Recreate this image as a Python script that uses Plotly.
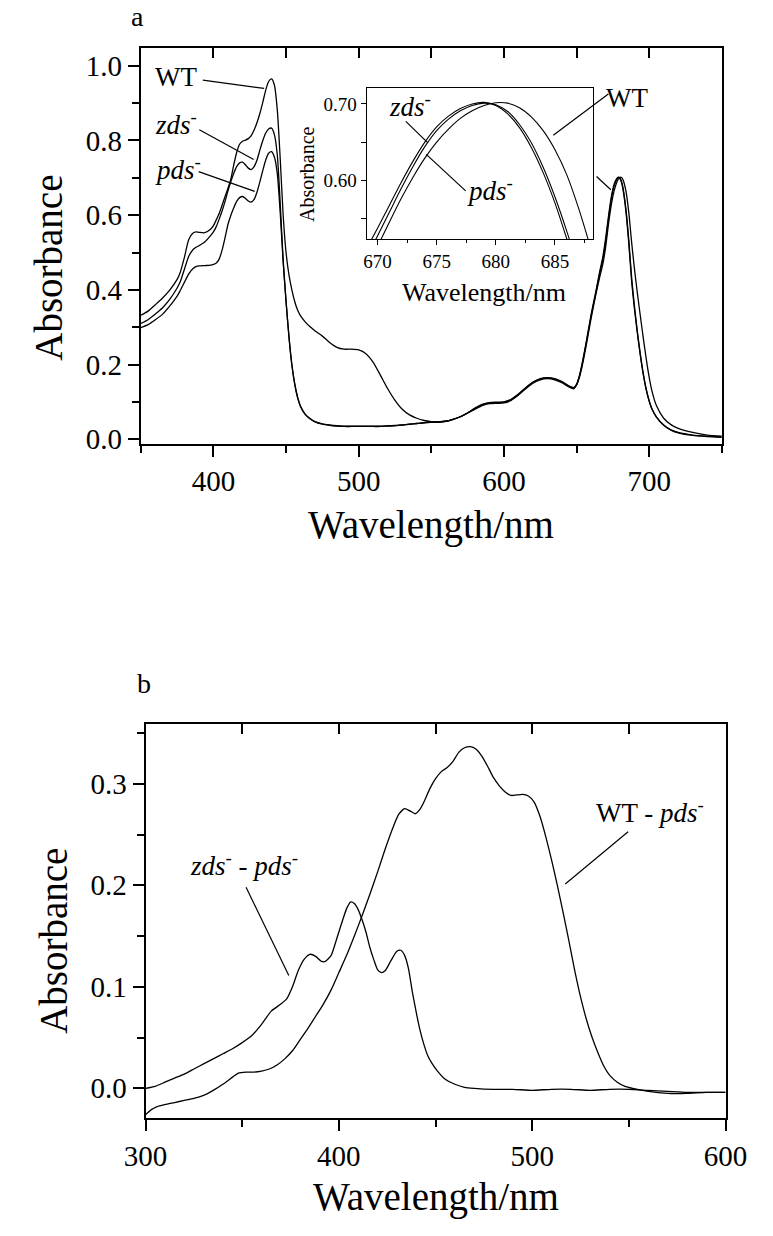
import plotly.graph_objects as go

FIG_W, FIG_H = 773, 1236
FONT = "Liberation Serif"

# ---------------- Panel a: absorption spectra ----------------
wavelength_a = [350, 355, 360, 365, 370, 375,
                377, 380, 383, 386, 388, 390,
                394, 398, 400,
                402, 404, 406, 408, 410, 412, 414, 416, 418, 420,
                422, 424, 426, 428, 430, 432, 434, 436, 438, 440,
                442, 444, 446, 448, 450, 452, 454, 456, 458, 460,
                463, 466, 470,
                475, 480, 485, 490, 495, 500, 505, 510, 515, 520,
                525, 530, 535, 540, 545, 550, 555, 560, 565, 570,
                575, 580, 585, 590, 595, 600, 605, 610, 615, 620,
                625, 630, 635, 640, 645,
                648, 650, 652, 654, 657, 660, 663, 666, 668,
                670, 672, 674, 676, 678,
                679, 680, 681, 682,
                684, 686, 688, 690, 692, 694, 696, 698, 700,
                702, 705, 710, 715, 720, 730, 740, 750]

wt_a = [0.332, 0.343, 0.360, 0.378, 0.400, 0.428,
        0.445, 0.487, 0.535, 0.552, 0.555, 0.554,
        0.553, 0.562, 0.572,
        0.588, 0.605, 0.627, 0.650, 0.672, 0.697, 0.735, 0.768, 0.790, 0.798,
        0.801, 0.805, 0.813, 0.828, 0.848, 0.873, 0.903, 0.935, 0.958, 0.965,
        0.948, 0.880, 0.750, 0.600, 0.500, 0.440, 0.400, 0.368, 0.345, 0.330,
        0.315, 0.303, 0.290,
        0.276, 0.259, 0.246, 0.241, 0.241, 0.239, 0.229, 0.206, 0.171, 0.135,
        0.104, 0.080, 0.065, 0.056, 0.050, 0.047, 0.046, 0.048, 0.053, 0.060,
        0.070, 0.082, 0.092, 0.097, 0.098, 0.099, 0.106, 0.120, 0.137, 0.152,
        0.161, 0.164, 0.161, 0.153, 0.141,
        0.137, 0.145, 0.166, 0.198, 0.258, 0.323, 0.382, 0.435, 0.467,
        0.513, 0.576, 0.629, 0.667, 0.691,
        0.698, 0.7015, 0.701, 0.695,
        0.665, 0.607, 0.525, 0.452, 0.388, 0.328, 0.270, 0.215, 0.166,
        0.128, 0.090, 0.056, 0.039, 0.029, 0.018, 0.011, 0.008]

zds_a = [0.310, 0.320, 0.335, 0.352, 0.375, 0.405,
         0.420, 0.455, 0.490, 0.508, 0.514, 0.518,
         0.528, 0.545, 0.555,
         0.570, 0.590, 0.612, 0.637, 0.665, 0.690, 0.712, 0.730, 0.740, 0.742,
         0.735, 0.726, 0.722, 0.730, 0.748, 0.775, 0.800, 0.820, 0.831, 0.833,
         0.815, 0.760, 0.630, 0.480, 0.370, 0.275, 0.200, 0.148, 0.112, 0.088,
         0.068, 0.057, 0.047,
         0.041, 0.038, 0.036, 0.035, 0.035, 0.035, 0.035, 0.035, 0.035, 0.036,
         0.037, 0.038, 0.040, 0.042, 0.044, 0.045, 0.046, 0.048, 0.053, 0.060,
         0.070, 0.080, 0.090, 0.095, 0.096, 0.097, 0.104, 0.118, 0.135, 0.150,
         0.159, 0.162, 0.159, 0.151, 0.139,
         0.135, 0.146, 0.170, 0.205, 0.267, 0.333, 0.390, 0.450, 0.486,
         0.537, 0.597, 0.650, 0.684, 0.700,
         0.702, 0.698, 0.687, 0.669,
         0.610, 0.523, 0.420, 0.345, 0.280, 0.222, 0.172, 0.132, 0.102,
         0.080, 0.060, 0.038, 0.025, 0.018, 0.011, 0.008, 0.006]

pds_a = [0.299, 0.307, 0.320, 0.335, 0.357, 0.383,
         0.397, 0.420, 0.443, 0.457, 0.462, 0.464,
         0.465, 0.466, 0.468,
         0.472, 0.483, 0.507, 0.540, 0.575, 0.600, 0.620, 0.637, 0.647, 0.650,
         0.645, 0.638, 0.635, 0.642, 0.662, 0.690, 0.720, 0.748, 0.766, 0.770,
         0.755, 0.710, 0.605, 0.475, 0.368, 0.273, 0.198, 0.146, 0.110, 0.087,
         0.067, 0.056, 0.046,
         0.040, 0.037, 0.035, 0.034, 0.034, 0.034, 0.034, 0.034, 0.034, 0.035,
         0.036, 0.038, 0.040, 0.042, 0.044, 0.045, 0.046, 0.048, 0.053, 0.060,
         0.070, 0.083, 0.093, 0.098, 0.099, 0.100, 0.107, 0.121, 0.138, 0.153,
         0.162, 0.165, 0.162, 0.154, 0.142,
         0.138, 0.147, 0.169, 0.203, 0.264, 0.329, 0.386, 0.444, 0.478,
         0.527, 0.589, 0.644, 0.680, 0.698,
         0.701, 0.699, 0.690, 0.673,
         0.617, 0.533, 0.430, 0.352, 0.285, 0.226, 0.175, 0.134, 0.103,
         0.081, 0.059, 0.037, 0.024, 0.017, 0.010, 0.007, 0.005]

# ---------------- Inset (Qy band close-up) ----------------
wavelength_inset = [669, 670, 671, 672, 673, 674, 675, 676, 677, 678,
                    679, 680, 681, 682, 683, 684, 685, 686, 687, 688]
wt_inset = [0.480, 0.513, 0.545, 0.576, 0.604, 0.629, 0.650, 0.667, 0.681, 0.691,
            0.698, 0.7015, 0.701, 0.695, 0.683, 0.665, 0.640, 0.607, 0.563, 0.512]
zds_inset = [0.508, 0.537, 0.567, 0.597, 0.625, 0.650, 0.670, 0.684, 0.694, 0.700,
             0.702, 0.698, 0.687, 0.669, 0.643, 0.610, 0.570, 0.523, 0.472, 0.420]
pds_inset = [0.497, 0.527, 0.558, 0.589, 0.618, 0.644, 0.665, 0.680, 0.691, 0.698,
             0.701, 0.699, 0.690, 0.673, 0.649, 0.617, 0.578, 0.533, 0.483, 0.430]

# ---------------- Panel b: difference spectra ----------------
wavelength_b_zds = [300, 305, 310, 315, 320, 325, 330, 335, 340, 345, 350, 355, 360, 365, 370,
                    373, 376, 379, 382, 385, 388, 391, 393, 396, 399,
                    402, 404, 406, 408, 410, 412, 414, 416, 418, 420, 422, 424,
                    427, 430, 432, 434, 436, 438, 440, 442, 444, 446, 448,
                    451, 455, 460, 465, 470,
                    480, 490, 500, 510, 520, 530, 540, 550, 560, 570, 580, 590, 600]
zds_minus_pds = [0.000, 0.002, 0.006, 0.010, 0.014, 0.019, 0.024, 0.029, 0.034, 0.039,
                 0.045, 0.052, 0.063, 0.076, 0.083,
                 0.088, 0.100, 0.116, 0.127, 0.132, 0.130, 0.125, 0.125, 0.131, 0.148,
                 0.166, 0.177, 0.1835, 0.182, 0.176, 0.166, 0.154, 0.139, 0.127, 0.117, 0.114, 0.116,
                 0.126, 0.135, 0.136, 0.131, 0.118, 0.095, 0.075, 0.057, 0.043, 0.032, 0.025,
                 0.017, 0.009, 0.004, 0.001, 0.000,
                 -0.001, -0.001, -0.002, -0.001, -0.001, -0.002, -0.001, -0.001, -0.002, -0.003,
                 -0.004, -0.004, -0.004]

wavelength_b_wt = [300, 303, 306, 310, 315, 320, 325, 330, 335, 340, 345, 348,
                   352, 356, 360, 364, 368, 372, 376, 380, 384, 388, 392, 396, 400,
                   404, 408, 412, 416, 420, 424, 428,
                   431, 434, 437, 439.5, 442, 444, 447,
                   450, 453, 456, 459, 462, 465, 468, 471, 474, 477, 480, 483, 486, 489,
                   492, 495, 498, 501, 504, 507, 510, 513, 516, 519, 522, 525, 528, 531,
                   534, 537, 540,
                   544, 548, 552, 560, 570, 580, 590, 600]
wt_minus_pds = [-0.026, -0.021, -0.018, -0.016, -0.014, -0.012, -0.010, -0.007, -0.002, 0.004, 0.011, 0.015,
                0.016, 0.016, 0.017, 0.019, 0.023, 0.029, 0.037, 0.048, 0.059, 0.071, 0.083, 0.097, 0.114,
                0.131, 0.150, 0.170, 0.191, 0.213, 0.236, 0.257,
                0.270, 0.2755, 0.273, 0.2705, 0.275, 0.282, 0.295,
                0.305, 0.312, 0.316, 0.322, 0.331, 0.3355, 0.3366, 0.334, 0.327, 0.317, 0.306, 0.298, 0.292, 0.2885,
                0.289, 0.2895, 0.288, 0.282, 0.268, 0.248, 0.225, 0.200, 0.173, 0.145, 0.116, 0.090, 0.068, 0.050,
                0.035, 0.022, 0.013,
                0.006, 0.002, 0.000, -0.003, -0.005, -0.005, -0.004, -0.004]

# tick positions
a_top_ticks = [400, 450, 500, 550, 600, 650, 700]
b_top_ticks = [350, 400, 450, 500, 550]


def px(x):
    return x / FIG_W


def py(y):
    return 1 - y / FIG_H


LINE = dict(color="black", width=1.3)

fig = go.Figure()
for ys in (wt_a, zds_a, pds_a):
    fig.add_trace(go.Scatter(x=wavelength_a, y=ys, mode="lines", line=dict(LINE, shape="spline", smoothing=0.6),
                             xaxis="x", yaxis="y", hoverinfo="skip"))
for ys in (wt_inset, zds_inset, pds_inset):
    fig.add_trace(go.Scatter(x=wavelength_inset, y=ys, mode="lines",
                             line=dict(color="black", width=1.1, shape="spline", smoothing=0.8),
                             xaxis="x2", yaxis="y2", hoverinfo="skip"))
fig.add_trace(go.Scatter(x=wavelength_b_zds, y=zds_minus_pds, mode="lines", line=dict(LINE, shape="spline", smoothing=0.6),
                         xaxis="x3", yaxis="y3", hoverinfo="skip"))
fig.add_trace(go.Scatter(x=wavelength_b_wt, y=wt_minus_pds, mode="lines", line=dict(LINE, shape="spline", smoothing=0.6),
                         xaxis="x3", yaxis="y3", hoverinfo="skip"))
# empty traces so the top tick overlay axes get drawn
fig.add_trace(go.Scatter(x=[], y=[], xaxis="x4", yaxis="y", hoverinfo="skip"))
fig.add_trace(go.Scatter(x=[], y=[], xaxis="x5", yaxis="y3", hoverinfo="skip"))

main_common = dict(showgrid=False, zeroline=False, showline=True, linewidth=2, linecolor="black",
                   mirror=True, ticks="outside", ticklen=11, tickwidth=2, tickcolor="black",
                   tickfont=dict(family=FONT, size=29, color="black"))
inset_common = dict(showgrid=False, zeroline=False, showline=True, linewidth=1, linecolor="black",
                    mirror=True, ticks="outside", ticklen=5, tickwidth=1, tickcolor="black",
                    tickfont=dict(family=FONT, size=19, color="black"))
top_common = dict(showgrid=False, zeroline=False, showline=False, ticks="inside", ticklen=10,
                  tickwidth=2, tickcolor="black", showticklabels=False, side="top", tickmode="array")

fig.update_layout(
    width=FIG_W, height=FIG_H, autosize=False,
    margin=dict(l=0, r=0, t=0, b=0),
    paper_bgcolor="white", plot_bgcolor="white",
    showlegend=False,
    font=dict(family=FONT, color="black"),
    xaxis=dict(main_common, domain=[px(126), px(742)], range=[350, 750], anchor="y",
               tickmode="linear", tick0=400, dtick=100,
               minor=dict(tick0=350, dtick=50, ticks="outside", ticklen=7, tickwidth=2, tickcolor="black")),
    yaxis=dict(main_common, domain=[py(448), py(48)], range=[-0.012, 1.049], anchor="x",
               tickmode="linear", tick0=0, dtick=0.2, tickformat=".1f",
               minor=dict(tick0=0, dtick=0.1, ticks="outside", ticklen=7, tickwidth=2, tickcolor="black")),
    xaxis4=dict(top_common, overlaying="x", anchor="y", range=[350, 750], tickvals=a_top_ticks,
                domain=[px(126), px(742)]),
    xaxis2=dict(inset_common, domain=[px(365.3), px(605.3)], range=[669.07, 688.2], anchor="y2",
                tickmode="linear", tick0=670, dtick=5,
                minor=dict(tick0=670, dtick=2.5, ticks="outside", ticklen=3, tickwidth=1, tickcolor="black")),
    yaxis2=dict(inset_common, domain=[py(241.7), py(89.3)], range=[0.5225, 0.7203], anchor="x2",
                tickmode="linear", tick0=0, dtick=0.1, tickformat=".2f",
                minor=dict(tick0=0, dtick=0.05, ticks="outside", ticklen=5, tickwidth=1, tickcolor="black")),
    xaxis3=dict(main_common, domain=[px(131), px(746)], range=[300, 600], anchor="y3",
                tickmode="linear", tick0=300, dtick=100,
                minor=dict(tick0=300, dtick=50, ticks="outside", ticklen=7, tickwidth=2, tickcolor="black")),
    yaxis3=dict(main_common, domain=[py(1129), py(731)], range=[-0.0293, 0.359], anchor="x3",
                tickmode="linear", tick0=0, dtick=0.1, tickformat=".1f",
                minor=dict(tick0=0, dtick=0.05, ticks="outside", ticklen=7, tickwidth=2, tickcolor="black")),
    xaxis5=dict(top_common, overlaying="x3", anchor="y3", range=[300, 600], tickvals=b_top_ticks,
                domain=[px(131), px(746)]),
)

# leader lines (data coordinates of their panels)
leaders = [
    ("x", "y", 392.7, 0.9615, 434.9, 0.9395),
    ("x", "y", 390.3, 0.829, 427.7, 0.749),
    ("x", "y", 389.8, 0.7167, 428.4, 0.6637),
    ("x", "y", 671.9, 0.9244, 634.0, 0.8138),
    ("x", "y", 663.8, 0.7034, 673.6, 0.6679),
    ("x2", "y2", 672.39, 0.6771, 674.26, 0.6489),
    ("x2", "y2", 677.45, 0.5861, 674.12, 0.6338),
    ("x3", "y3", 352.0, 0.198, 374.1, 0.1112),
    ("x3", "y3", 549.6, 0.2527, 517.1, 0.2013),
]
for xr, yr, x0, y0, x1, y1 in leaders:
    fig.add_shape(type="line", xref=xr, yref=yr, x0=x0, y0=y0, x1=x1, y1=y1,
                  line=dict(color="black", width=1.2), layer="above")


def note(text, x, y, size, xanchor="left", angle=0):
    fig.add_annotation(text=text, x=px(x), y=py(y), xref="paper", yref="paper",
                       showarrow=False, xanchor=xanchor, yanchor="middle", textangle=angle,
                       font=dict(family=FONT, size=size, color="black"))


ZDS = "<i>zds</i><sup>-</sup>"
PDS = "<i>pds</i><sup>-</sup>"

# panel letters
note("a", 123, 17, 28, "center")
note("b", 129, 690, 28, "center")
# axis titles
note("Absorbance", 28, 270, 39, "center", -90)
note("Wavelength/nm", 434, 530, 39, "center")
note("Absorbance", 34, 950, 39, "center", -90)
note("Wavelength/nm", 438.5, 1209, 39, "center")
note("Absorbance", 303, 176, 20, "center", -90)
note("Wavelength/nm", 490, 295, 26, "center")
# curve labels
note("WT", 139, 78, 27)
note(ZDS, 139, 124, 27)
note(PDS, 139, 170, 27)
note(ZDS, 387, 106, 27)
note(PDS, 470, 191, 27)
note("WT", 617, 99, 27)
note(ZDS + " - " + PDS, 176, 872, 27)
note("WT - " + PDS, 606, 819, 27)

fig.write_html("out.html")
